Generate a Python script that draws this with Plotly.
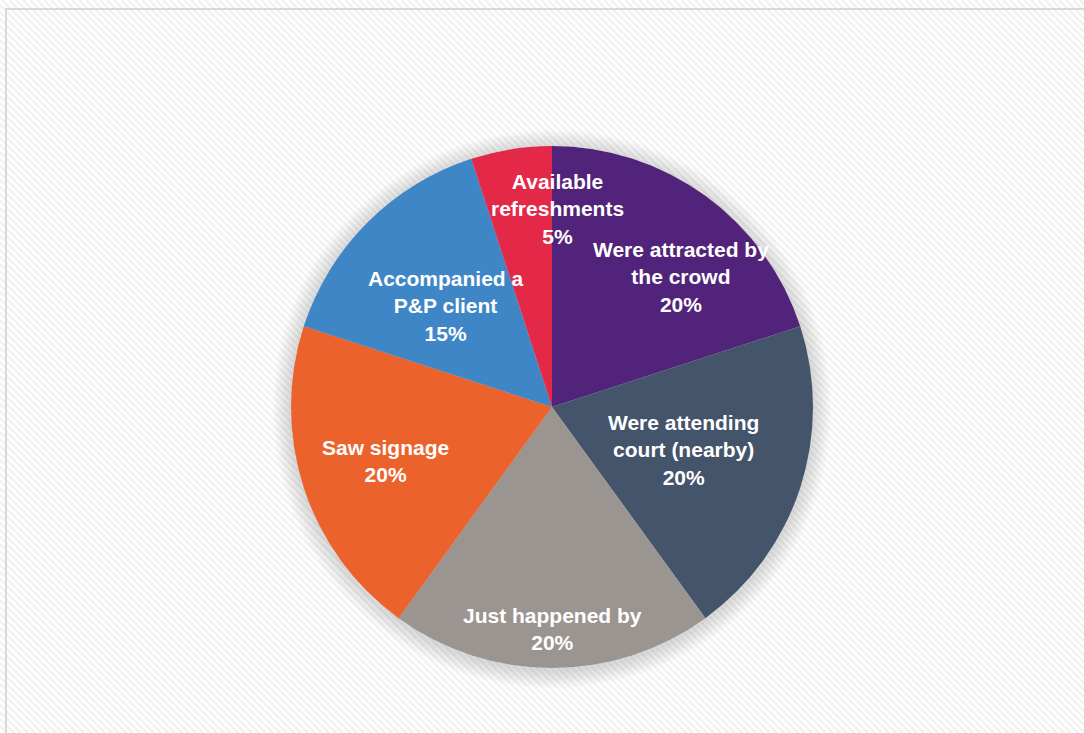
import plotly.graph_objects as go
import math

# ---- data ----
labels = ["Were attracted by the crowd", "Were attending court (nearby)", "Just happened by",
          "Saw signage", "Accompanied a P&P client", "Available refreshments"]
label_text = ["Were attracted by<br>the crowd", "Were attending<br>court (nearby)", "Just happened by",
              "Saw signage", "Accompanied a<br>P&P client", "Available<br>refreshments"]
values = [20, 20, 20, 20, 15, 5]
colors = ["#52237A", "#44546A", "#9B9591", "#EC622C", "#3F86C6", "#E42847"]

# label placement style (radius fraction, angle nudge in degrees)
label_radius = [0.70, 0.53, 0.85, 0.67, 0.56, 0.76]
label_nudge = [8.8, 0.0, 0.0, 0.0, -1.5, 10.5]

W, H = 1084, 733
ML, MR, MT, MB = 291, 271, 146, 65
PW = W - ML - MR
PH = H - MT - MB

def px_x(px):
    return (px - ML) / PW

def px_y(py):
    return (H - MB - py) / PH

fig = go.Figure()
fig.add_trace(go.Pie(
    labels=labels,
    values=values,
    sort=False,
    direction="clockwise",
    rotation=0,
    marker=dict(colors=colors, line=dict(width=0)),
    textinfo="none",
    hoverinfo="label+percent",
    showlegend=False,
))

# labels placed at slice angles computed from the data
total = sum(values)
annotations = []
cum = 0
for v, t, r, n in zip(values, label_text, label_radius, label_nudge):
    mid = (cum + v / 2) / total * 360 + n
    cum += v
    th = math.radians(mid)
    x = 0.5 + r * 0.5 * math.sin(th)
    y = 0.5 + r * 0.5 * math.cos(th)
    pct = round(v / total * 100)
    annotations.append(dict(
        x=x, y=y, xref="paper", yref="paper", xanchor="center", yanchor="middle",
        text=f"{t}<br>{pct}%", showarrow=False, align="center",
        font=dict(family="Liberation Sans, Arial, sans-serif", size=21, color="white", weight="bold"),
    ))

shapes = []
# faint diagonal hatch background
segs = []
step = 7
for x0 in range(-H, W + step, step):
    segs.append(f"M{px_x(x0):.4f},{px_y(0):.4f} L{px_x(x0 + H):.4f},{px_y(H):.4f}")
shapes.append(dict(type="path", xref="paper", yref="paper", path=" ".join(segs),
                   line=dict(color="#f2f2f2", width=2.5), layer="below"))
# soft shadow around pie
for d in range(2, 20, 2):
    e = d / PW
    shapes.append(dict(type="circle", xref="paper", yref="paper",
                       x0=-e, x1=1 + e, y0=-e - 2 / PH, y1=1 + e - 2 / PH,
                       fillcolor="rgba(120,120,120,0.028)", line=dict(width=0), layer="below"))
# border
shapes.append(dict(type="rect", xref="paper", yref="paper",
                   x0=px_x(6), x1=px_x(W + 10), y0=px_y(H + 10), y1=px_y(9),
                   line=dict(color="#d9d9d9", width=2), fillcolor="rgba(0,0,0,0)", layer="above"))

fig.update_layout(
    width=W, height=H,
    margin=dict(l=ML, r=MR, t=MT, b=MB),
    paper_bgcolor="white",
    plot_bgcolor="white",
    shapes=shapes,
    annotations=annotations,
)

fig.write_html("out.html", config={"displayModeBar": False},
               post_script="document.body.style.margin='0';document.body.style.overflow='hidden';")
